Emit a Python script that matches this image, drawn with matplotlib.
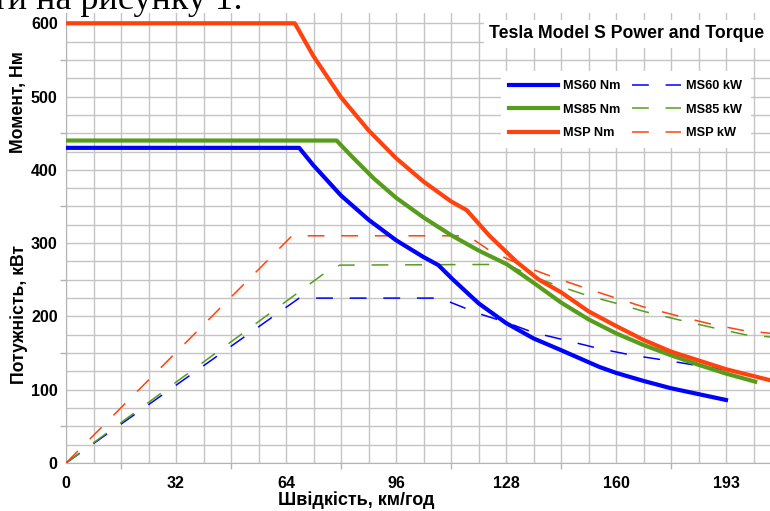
import matplotlib.pyplot as plt
from matplotlib.ticker import MultipleLocator, FuncFormatter

# speed is stored in mph, the axis is labelled in km/h
speed_ticks_mph = [0, 20, 40, 60, 80, 100, 120]
speed_labels = ['0', '32', '64', '96', '128', '160', '193']

ms60_nm_x = [0, 42.4, 45, 50, 55, 60, 65, 67.7, 70.4, 75, 80, 85, 90, 97, 100, 105, 110, 115, 120]
ms60_nm = [430, 430, 406, 365, 332, 304, 281, 270, 250, 218, 191, 170, 154, 131, 123, 112, 102, 94, 86]

ms85_nm_x = [0, 49.2, 52, 56, 60, 65, 70, 75, 80.2, 85, 90, 95, 100, 105, 110, 115, 120, 125.3]
ms85_nm = [440, 440, 418, 388, 362, 335, 311, 290, 271, 246, 219, 196, 177, 161, 147, 134, 122, 111]

msp_nm_x = [0, 41.6, 45, 50, 55, 60, 65, 70, 72.85, 77, 82, 86, 90, 95, 100, 105, 110, 115, 120, 128]
msp_nm = [600, 600, 555, 499, 454, 416, 384, 357, 345, 310, 274, 250, 233, 207, 187, 168, 152, 140, 128, 113]

ms60_kw_x = [0, 42.4, 67.6, 70, 75, 80, 85, 90, 97, 103, 110, 114, 120]
ms60_kw = [0, 225, 225, 219, 204, 192, 178, 169, 156, 147, 139, 134, 127]

ms85_kw_x = [0, 47, 49.8, 80.2, 85, 89, 95, 100, 105, 111.6, 118, 123.5, 128]
ms85_kw = [0, 259, 270, 271, 254, 243, 228, 218, 207, 195, 184, 175, 172]

msp_kw_x = [0, 41.1, 73.1, 77.4, 83.8, 89.2, 94.7, 100, 105, 111.6, 117, 123, 128]
msp_kw = [0, 310, 310, 288, 267, 252, 238, 225, 213, 200, 190, 181, 177]

BLUE = '#0000ff'
GREEN = '#579d1c'
ORANGE = '#ff420e'

plt.rcParams['font.family'] = ['Liberation Sans', 'DejaVu Sans']

fig = plt.figure(figsize=(7.7, 5.11), dpi=100)
ax = fig.add_axes([66 / 770, 48 / 511, 704 / 770, 450 / 511])

lw_t = 3.0
lw_p = 1.1
ax.plot(ms60_nm_x, ms60_nm, color=BLUE, lw=lw_t, label='MS60 Nm', zorder=4)
ax.plot(ms85_nm_x, ms85_nm, color=GREEN, lw=lw_t, label='MS85 Nm', zorder=4)
ax.plot(msp_nm_x, msp_nm, color=ORANGE, lw=lw_t, label='MSP Nm', zorder=4)
ax.plot(ms60_kw_x, ms60_kw, color=BLUE, lw=lw_p, dashes=(11, 11), label='MS60 kW', zorder=3)
ax.plot(ms85_kw_x, ms85_kw, color=GREEN, lw=lw_p, dashes=(11, 11), label='MS85 kW', zorder=3)
ax.plot(msp_kw_x, msp_kw, color=ORANGE, lw=lw_p, dashes=(11, 11), label='MSP kW', zorder=3)

ax.set_xlim(0, 128)
ax.set_ylim(0, 614)

ax.xaxis.set_major_locator(MultipleLocator(10))
ax.xaxis.set_minor_locator(MultipleLocator(5))
ax.yaxis.set_major_locator(MultipleLocator(50))
ax.yaxis.set_minor_locator(MultipleLocator(25))

lab = dict(zip(speed_ticks_mph, speed_labels))
ax.xaxis.set_major_formatter(FuncFormatter(lambda v, p: lab.get(int(round(v)), '') if abs(v % 20) < 1e-6 else ''))
ax.yaxis.set_major_formatter(FuncFormatter(lambda v, p: '%d' % v if int(round(v)) % 100 == 0 else ''))

ax.grid(which='both', color='#c4c4c4', lw=1.0)
ax.set_axisbelow(True)
ax.tick_params(which='major', length=4, width=1, color='#b3b3b3', labelsize=11.5, pad=2)
ax.tick_params(axis='x', which='major', pad=5)
ax.tick_params(which='minor', length=0)
for lbl in ax.get_xticklabels() + ax.get_yticklabels():
    lbl.set_fontweight('bold')

fig.canvas.draw()
for t in ax.xaxis.get_major_ticks():
    if abs(t.get_loc() % 20) < 1e-6:
        t.tick1line.set_visible(False)
for t in ax.yaxis.get_major_ticks():
    if abs(t.get_loc() % 100) < 1e-6:
        t.tick1line.set_visible(False)

for s in ['top', 'right']:
    ax.spines[s].set_visible(False)
for s in ['left', 'bottom']:
    ax.spines[s].set_color('#b3b3b3')

fig.text(356 / 770, 1 - 500 / 511, 'Швідкість, км/год', fontsize=13, fontweight='bold',
         ha='center', va='center')
fig.text(19 / 770, 1 - 102 / 511, 'Момент, Нм', rotation=90, fontsize=12.7, fontweight='bold',
         ha='center', va='center')
fig.text(19 / 770, 1 - 314 / 511, 'Потужність, кВт', rotation=90, fontsize=12.7, fontweight='bold',
         ha='center', va='center')

# title box and legend box
fig.text(627 / 770, 1 - 34 / 511, 'Tesla Model S Power and Torque', fontsize=12.7, fontweight='bold',
         ha='center', va='center', zorder=10,
         bbox=dict(facecolor='white', edgecolor='none', pad=4))

handles, labels = ax.get_legend_handles_labels()
leg = ax.legend(handles, labels, ncol=2, loc='upper right',
                bbox_to_anchor=((757 - 66) / 704, 1 - 52 / 450),
                prop={'weight': 'bold', 'size': 9.2}, frameon=True, fancybox=False,
                framealpha=1, edgecolor='none', facecolor='white', handlelength=3.8,
                handletextpad=0.4, columnspacing=0.9, labelspacing=0.9, borderpad=0.7)
leg.set_zorder(10)

# line of document text above the chart, clipped by the crop
fig.text(-8 / 770, 1 - 9 / 511, 'ти на рисунку 1:', fontsize=26, family='Liberation Serif',
         ha='left', va='baseline', zorder=11)

fig.savefig('out.png', dpi=100)
